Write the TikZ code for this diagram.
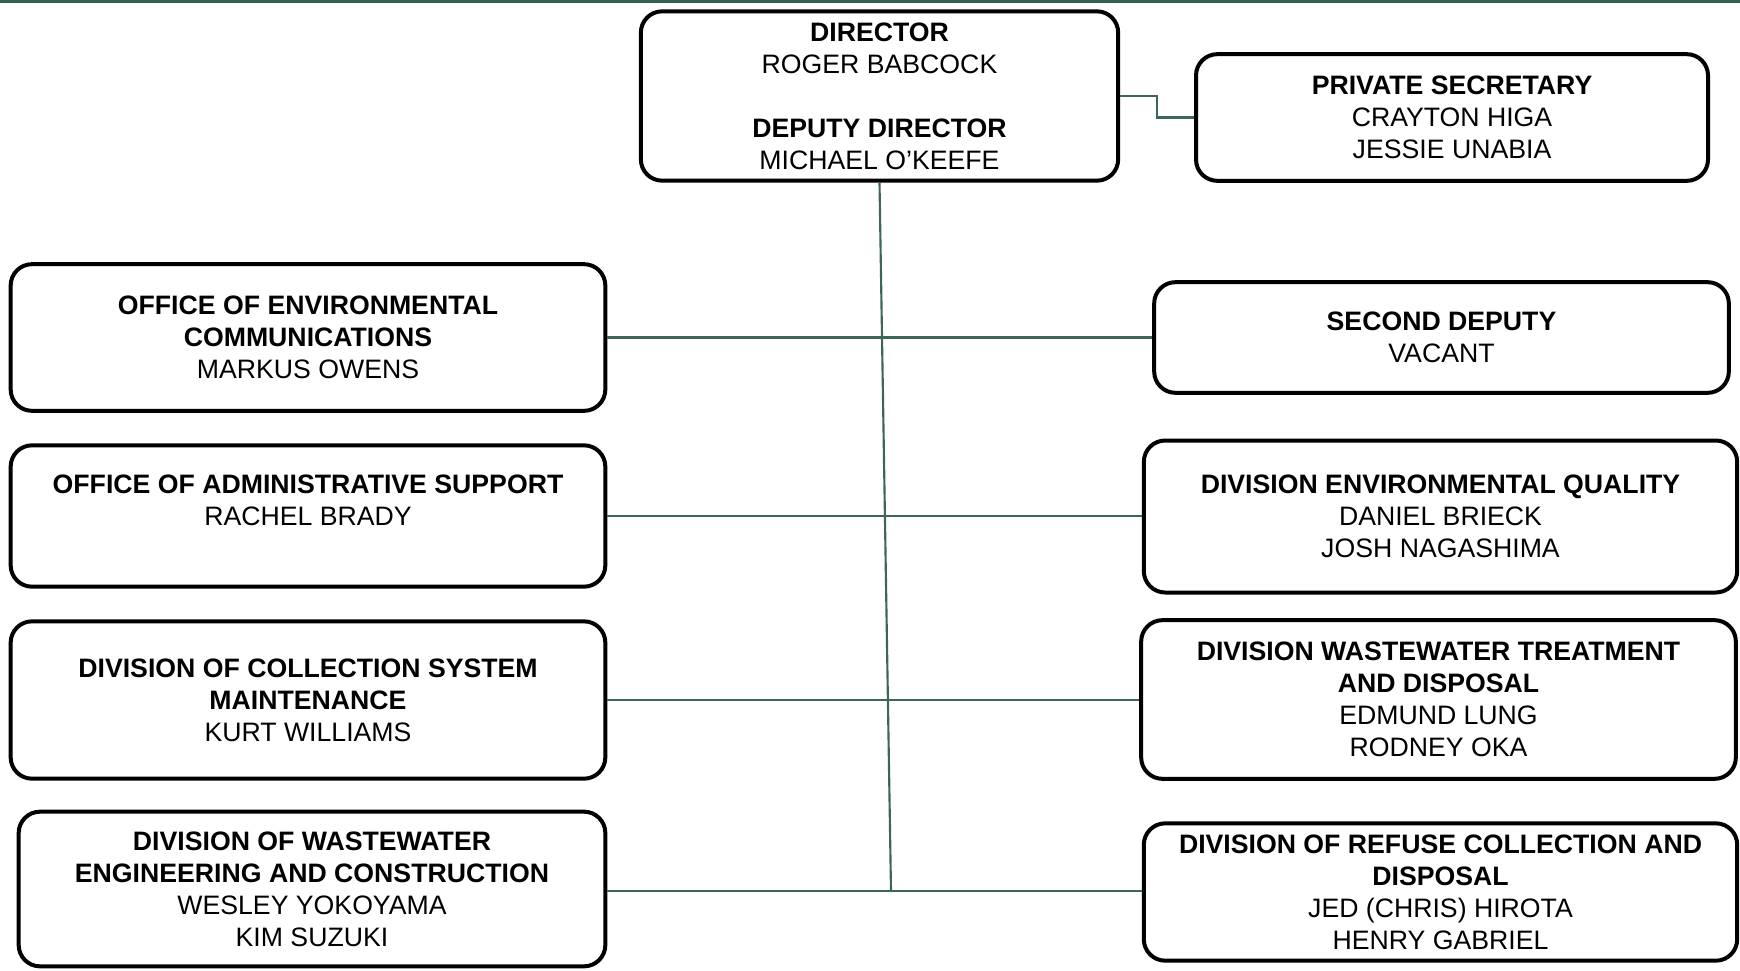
\documentclass[tikz,border=0pt]{standalone}
\usepackage{fontspec}
\setmainfont{Liberation Sans}
\definecolor{connc}{RGB}{62,102,88}
\definecolor{barc}{RGB}{52,96,80}
\begin{document}
\begin{tikzpicture}[x=0.75pt,y=-0.75pt,
  orgbox/.style={draw=black, line width=3pt, rounded corners=16pt, align=center,
    font=\fontsize{20}{24}\selectfont, inner sep=0pt, fill=white},
  conn/.style={draw=connc, line width=1.6pt}]
\useasboundingbox (0,0) rectangle (1740,970);
\fill[barc] (0,0) rectangle (1740,3);
\coordinate (e1) at (1157,0);
\coordinate (bot) at (891,891);
% boxes
\node[orgbox, minimum width=358pt, minimum height=127pt] (dir) at (879.5,96)
  {\textbf{DIRECTOR}\\ROGER BABCOCK\\[24pt]\textbf{DEPUTY DIRECTOR}\\MICHAEL O’KEEFE};
\node[orgbox, minimum width=384pt, minimum height=95pt] (ps) at (1452,117.5)
  {\textbf{PRIVATE SECRETARY}\\CRAYTON HIGA\\JESSIE UNABIA};
\node[orgbox, minimum width=446pt, minimum height=110pt] (oec) at (308,337.5)
  {\textbf{OFFICE OF ENVIRONMENTAL}\\\textbf{COMMUNICATIONS}\\MARKUS OWENS};
\node[orgbox, minimum width=431pt, minimum height=83pt] (sd) at (1441.5,337.5)
  {\textbf{SECOND DEPUTY}\\VACANT};
\node[orgbox, minimum width=446pt, minimum height=106pt] (oas) at (308,516)
  {\textbf{OFFICE OF ADMINISTRATIVE SUPPORT}\\RACHEL BRADY\\\mbox{}};
\node[orgbox, minimum width=445pt, minimum height=114pt] (deq) at (1440.5,516.5)
  {\textbf{DIVISION ENVIRONMENTAL QUALITY}\\DANIEL BRIECK\\JOSH NAGASHIMA};
\node[orgbox, minimum width=446pt, minimum height=118pt] (dcs) at (308,700)
  {\textbf{DIVISION OF COLLECTION SYSTEM}\\\textbf{MAINTENANCE}\\KURT WILLIAMS};
\node[orgbox, minimum width=446pt, minimum height=119pt] (dwt) at (1438.5,699.5)
  {\textbf{DIVISION WASTEWATER TREATMENT}\\\textbf{AND DISPOSAL}\\EDMUND LUNG\\RODNEY OKA};
\node[orgbox, minimum width=440pt, minimum height=116pt] (dwe) at (312,889)
  {\textbf{DIVISION OF WASTEWATER}\\\textbf{ENGINEERING AND CONSTRUCTION}\\WESLEY YOKOYAMA\\KIM SUZUKI};
\node[orgbox, minimum width=445pt, minimum height=103pt] (drc) at (1440.5,892)
  {\textbf{DIVISION OF REFUSE COLLECTION AND}\\\textbf{DISPOSAL}\\JED (CHRIS) HIROTA\\HENRY GABRIEL};
% connectors
\draw[conn] (dir.east) -- (dir.east -| e1) |- (ps.west);
\draw[conn] (dir.south) -- (bot);
\draw[conn] (oec.east) -- (sd.west |- oec.east);
\draw[conn] (oas.east) -- (deq.west |- oas.east);
\draw[conn] (dcs.east) -- (dwt.west |- dcs.east);
\draw[conn] (dwe.east |- bot) -- (drc.west |- bot);
\end{tikzpicture}
\end{document}
